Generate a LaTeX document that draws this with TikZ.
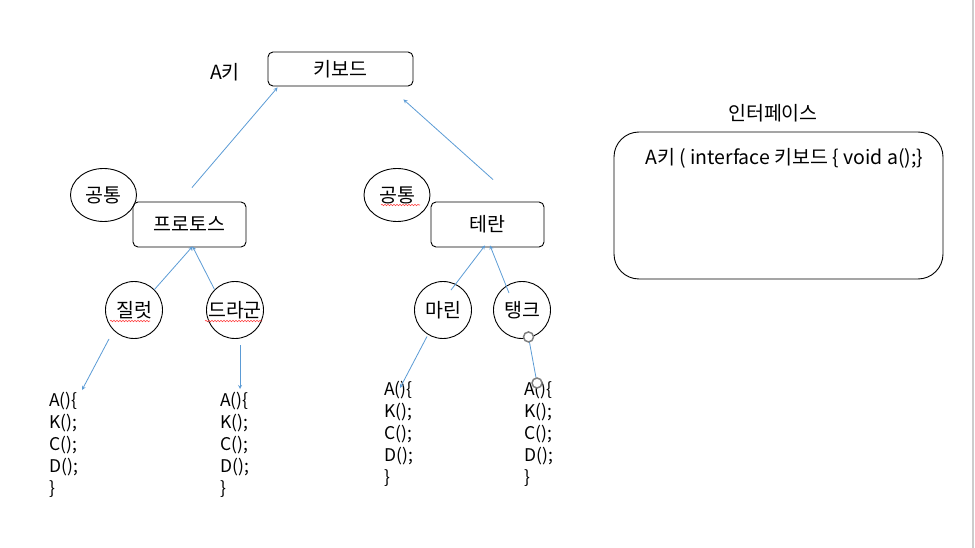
\documentclass[tikz,border=0pt]{standalone}
\usepackage{fontspec}
\setmainfont{Noto Sans CJK KR}
\usetikzlibrary{shapes, arrows, decorations.pathmorphing}
\definecolor{linkblue}{HTML}{5B9BD5}

\begin{document}
\begin{tikzpicture}[>=stealth, x=1pt, y=-1pt, font=\fontsize{19.5}{22}\selectfont,
  box/.style={draw, rounded corners=5pt, line width=0.9pt},
  unit/.style={draw, circle, line width=0.9pt, minimum size=57pt, inner sep=0pt},
  common/.style={draw, ellipse, line width=0.9pt, minimum width=66pt, minimum height=53pt, inner sep=0pt},
  link/.style={->, linkblue, line width=0.8pt},
  code/.style={anchor=north west, align=left, inner sep=0pt, font=\fontsize{17.5}{22}\selectfont},
  spell/.style={red!75, line width=0.6pt, decorate, decoration={snake, amplitude=0.7pt, segment length=3pt}},
  handle/.style={draw=gray, fill=white, line width=1.5pt, circle, inner sep=0pt, minimum size=10pt}]
\useasboundingbox (0,0) rectangle (975,548);
\draw[black!20, line width=1.5pt] (973,0) -- (973,548);
%
\node[box, minimum width=145pt, minimum height=34pt] (keyboard) at (340.5,69) {키보드};
\node (akey) at (225,72) {A키};
\node[box, minimum width=113pt, minimum height=45pt] (protoss) at (189.5,224.5) {프로토스};
\node[box, minimum width=113pt, minimum height=45pt] (terran) at (487.5,224.5) {테란};
\node[common] (common1) at (103.5,195) {공통};
\node[common] (common2) at (397,195) {공통};
%
\node[unit] (zealot) at (134,310) {질럿};
\node[unit] (dragoon) at (235,310) {드라군};
\node[unit] (marine) at (443,310) {마린};
\node[unit] (tank) at (522,310) {탱크};
%
\node[code] (zcode) at (49,392) {A()\{\\K();\\C();\\D();\\\}};
\node[code] (dcode) at (220,392) {A()\{\\K();\\C();\\D();\\\}};
\node[code] (mcode) at (384,381) {A()\{\\K();\\C();\\D();\\\}};
\node[code] (tcode) at (524,381) {A()\{\\K();\\C();\\D();\\\}};
%
\draw[link] ([xshift=2.5pt,yshift=14pt]protoss.north) -- ([xshift=10pt,yshift=-1pt]keyboard.south west);
\draw[link] ([xshift=5.5pt,yshift=22pt]terran.north) -- ([xshift=-10pt,yshift=-13pt]keyboard.south east);
\draw[link] (zealot.45) -- ([xshift=3pt,yshift=1pt]protoss.south);
\draw[link] (dragoon.135) -- ([xshift=3pt,yshift=1pt]protoss.south);
\draw[link] ([xshift=8pt,yshift=-9pt]marine.north) -- ([xshift=-2.5pt,yshift=2pt]terran.south);
\draw[link] ([xshift=-13pt,yshift=-12pt]tank.north) -- ([xshift=2.5pt,yshift=2pt]terran.south);
\draw[link] ([xshift=-25pt]zealot.south) -- ([xshift=33pt,yshift=2pt]zcode.north west);
\draw[link] ([xshift=5pt,yshift=-6.5pt]dragoon.south) -- ([xshift=20pt,yshift=3pt]dcode.north west);
\draw[link] ([xshift=-16pt,yshift=2.5pt]marine.south) -- ([xshift=16pt,yshift=-7pt]mcode.north west);
\draw[linkblue, line width=0.8pt] ([xshift=6.5pt,yshift=2pt]tank.south) node[handle] (grip1) {}
  -- ([xshift=13pt,yshift=-2pt]tcode.north west) node[handle] (grip2) {};
%
\draw[spell] ([xshift=-16pt,yshift=-10pt]common2.center) -- ([xshift=23pt,yshift=-10pt]common2.center);
\draw[spell] ([xshift=-24pt,yshift=-11pt]zealot.center) -- ([xshift=16pt,yshift=-11pt]zealot.center);
\draw[spell] ([xshift=-30pt,yshift=-11pt]dragoon.center) -- ([xshift=27pt,yshift=-11pt]dragoon.center);
%
\node[draw, rounded corners=25pt, line width=0.9pt, minimum width=329pt, minimum height=147pt] (iface) at (778.5,205.5) {};
\node (ititle) at (773,113) {인터페이스};
\node[anchor=west, inner sep=0pt] (idecl) at (645,158) {A키 ( interface 키보드 \{ void a();\}};
\end{tikzpicture}
\end{document}
